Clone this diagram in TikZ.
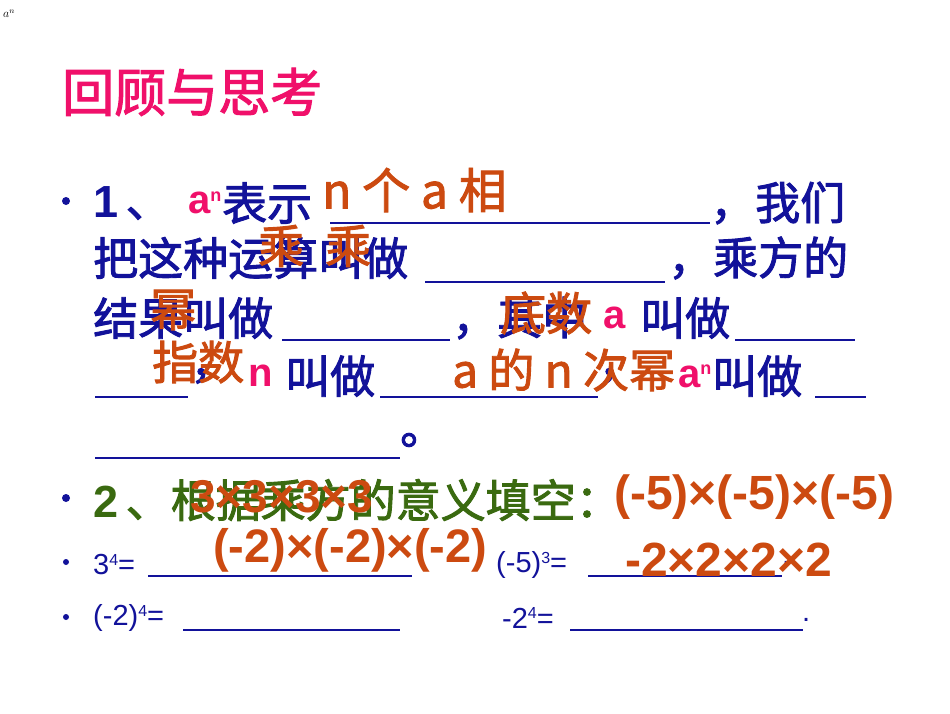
\documentclass[tikz,border=0pt]{standalone}
\usepackage{fontspec}
\setmainfont{Liberation Sans}
\newfontfamily\cjk{Noto Sans CJK SC}[AutoFakeBold=2]
\definecolor{navy}{HTML}{12129A}
\definecolor{org}{HTML}{CC4A10}
\definecolor{pk}{HTML}{F0106A}
\definecolor{grn}{HTML}{3A6A10}
\begin{document}
\begin{tikzpicture}[x=1pt,y=-1pt,
 t/.style={anchor=west,inner sep=0pt,text=navy,font=\fontsize{45}{45}\selectfont\bfseries\cjk},
 o/.style={anchor=west,inner sep=0pt,text=org,font=\fontsize{46}{46}\selectfont\bfseries\cjk},
 p/.style={anchor=west,inner sep=0pt,text=pk,font=\fontsize{40}{40}\selectfont\bfseries},
 s/.style={anchor=west,inner sep=0pt,text=navy,font=\fontsize{29}{29}\selectfont},
 bl/.style={draw=navy,line width=1.6pt},
 bul/.style={fill=navy,circle,inner sep=0pt,minimum size=8pt}]
\fill[white] (0,0) rectangle (950,713);
\node[anchor=west,inner sep=0pt,font=\fontsize{12}{12}\selectfont\itshape] (an) at (3,14) {$a^n$};
\node[anchor=west,inner sep=0pt,text=pk,font=\fontsize{52}{52}\selectfont\bfseries\cjk] (title) at (62,92) {回顾与思考};
% line 1
\node[bul] (b1) at (66,201) {};
\node[t] (n1) at (93,203) {{\fontspec{Liberation Sans}1}\,、};
\node[p] (a1) at (188,203) {a\raisebox{0.6ex}{\fontsize{18}{18}\selectfont n}};
\node[t] (l1a) at (222,203) {表示};
\draw[bl] (330,223) coordinate(u1a) -- (710,223) coordinate(u1b);
\node[t] (l1b) at (710,203) {，我们};
\node[o,font=\fontsize{48}{48}\selectfont\bfseries\cjk] (ans1) at (322,190) {n 个 a 相};
% line 2
\node[t] (l2a) at (93,258) {把这种运算叫做};
\draw[bl] (425,282) coordinate(u2a) -- (665,282) coordinate(u2b);
\node[t] (l2b) at (668,258) {，乘方的};
\node[o] (ans2a) at (258,246) {乘};
\node[o] (ans2b) at (325,246) {乘};
% line 3
\node[t] (l3a) at (93,318) {结果叫做};
\draw[bl] (282,340) coordinate(u3a) -- (450,340) coordinate(u3b);
\node[t] (l3b) at (452,318) {，其中};
\node[p] (a3) at (603,318) {a};
\node[t] (l3c) at (640,318) {叫做};
\draw[bl] (735,340) coordinate(u3c) -- (855,340) coordinate(u3d);
\node[o] (ans3a) at (150,310) {幂};
\node[o] (ans3b) at (500,313) {底数};
% line 4
\draw[bl] (95,397) coordinate(u4a) -- (188,397) coordinate(u4b);
\node[t] (l4a) at (190,376) {，};
\node[p] (n4) at (248,376) {n};
\node[t] (l4b) at (285,376) {叫做};
\draw[bl] (380,397) coordinate(u4c) -- (598,397) coordinate(u4d);
\node[t] (l4c) at (598,376) {，};
\node[p] (a4) at (678,376) {a\raisebox{0.6ex}{\fontsize{18}{18}\selectfont n}};
\node[t] (l4d) at (712,376) {叫做};
\draw[bl] (815,397) coordinate(u4e) -- (866,397) coordinate(u4f);
\node[o] (ans4a) at (152,362) {指数};
\node[o] (ans4b) at (452,370) {a 的 n 次幂};
% line 5
\draw[bl] (95,458) coordinate(u5a) -- (400,458) coordinate(u5b);
\node[t] (l5) at (400,440) {。};
% item 2
\node[bul] (b2) at (66,498) {};
\node[t,text=grn] (l6) at (93,500) {{\fontspec{Liberation Sans}2}\,、根据乘方的意义填空：};
\node[o,font=\fontsize{46}{46}\selectfont\bfseries] (ans5) at (190,497) {3×3×3×3};
\node[o,font=\fontsize{48}{48}\selectfont\bfseries] (ans6) at (614,497) {(-5)×(-5)×(-5)};
% item 3
\node[bul,minimum size=6pt] (b3) at (66,562) {};
\node[s] (l7a) at (93,565) {3\raisebox{0.6ex}{\fontsize{16}{16}\selectfont 4}=};
\draw[bl] (148,576) coordinate(u7a) -- (412,576) coordinate(u7b);
\node[s] (l7b) at (496,565) {(-5)\raisebox{0.6ex}{\fontsize{16}{16}\selectfont 3}=};
\draw[bl] (588,576) coordinate(u7c) -- (782,576) coordinate(u7d);
\node[s] (l7c) at (782,565) {,};
\node[o,font=\fontsize{47}{47}\selectfont\bfseries] (ans7) at (213,550) {(-2)×(-2)×(-2)};
\node[o,font=\fontsize{48}{48}\selectfont\bfseries] (ans8) at (625,560) {-2×2×2×2};
% item 4
\node[bul,minimum size=6pt] (b4) at (66,617) {};
\node[s] (l8a) at (93,618) {(-2)\raisebox{0.6ex}{\fontsize{16}{16}\selectfont 4}=};
\draw[bl] (183,630) coordinate(u8a) -- (400,630) coordinate(u8b);
\node[s] (l8b) at (502,618) {-2\raisebox{0.6ex}{\fontsize{16}{16}\selectfont 4}=};
\draw[bl] (570,630) coordinate(u8c) -- (803,630) coordinate(u8d);
\node[s] (l8c) at (802,620) {.};
\end{tikzpicture}
\end{document}
